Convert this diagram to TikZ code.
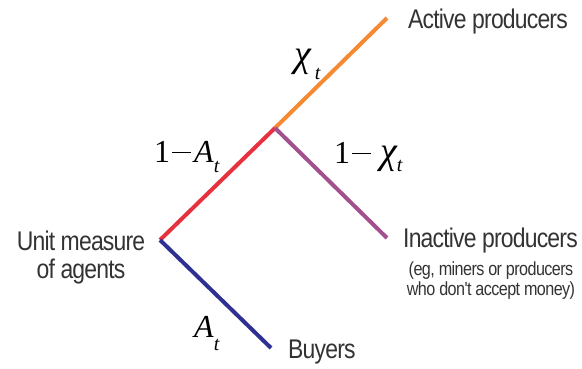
\documentclass[tikz,border=0pt]{standalone}
\usepackage{fontspec}
\setmainfont{Liberation Sans}
\newfontfamily\lbl[FakeStretch=0.85,LetterSpace=-3]{Liberation Sans}
\newfontfamily\mser{Liberation Serif}
\definecolor{corange}{HTML}{F58A33}
\definecolor{cred}{HTML}{E8313F}
\definecolor{cpurple}{HTML}{A3508E}
\definecolor{cnavy}{HTML}{2E3192}
\definecolor{ctext}{HTML}{333333}
\newcommand{\subt}[1]{\raisebox{#1}{\fontsize{20}{20}\selectfont\itshape t}}
\newcommand{\bigchi}{{\fontsize{38}{38}\selectfont\itshape χ}}
\newcommand{\mminus}{\hspace{2pt}\rule[9pt]{19pt}{1.4pt}\hspace{3pt}}
\begin{document}
\begin{tikzpicture}[x=1pt,y=-1pt,
  branch/.style={line width=4pt},
  lab/.style={text=ctext,font=\lbl\fontsize{27}{28}\selectfont,inner sep=0pt},
  small/.style={text=ctext,font=\lbl\fontsize{19}{20}\selectfont,inner sep=0pt,align=center},
  mlab/.style={inner sep=0pt,anchor=base west,font=\mser\fontsize{32}{34}\selectfont}]
\useasboundingbox (0,0) rectangle (582,368);
\coordinate (root) at (160,240);
\coordinate (mid) at (275,128);
\coordinate (act) at (387,18);
\coordinate (inact) at (387,238);
\coordinate (buy) at (271,348);
\draw[branch,corange] (mid) -- (act);
\draw[branch,cred] (root) -- (mid);
\draw[branch,cpurple] (mid) -- (inact);
\draw[branch,cnavy] (root) -- (buy);
\node[lab,anchor=base west] (tact) at (408,28) {Active producers};
\node[lab,anchor=base west] (tinact) at (403,247) {Inactive producers};
\node[small,anchor=base] (tnote) at (491,295) {(eg, miners or producers\\who don't accept money)};
\node[lab,align=center,anchor=base] (troot) at (81,278) {Unit measure\\of agents};
\node[lab,anchor=base west] (tbuy) at (288,358) {Buyers};
\node[mlab] (chi) at (294,66) {\bigchi\hspace{4pt}\subt{-13pt}};
\node[mlab] (oma) at (154,162) {1\mminus\textit{A}\subt{-10pt}};
\node[mlab] (omchi) at (334,163) {1\mminus\hspace{6pt}\bigchi\subt{-8pt}};
\node[mlab] (at) at (194,337) {\textit{A}\subt{-13pt}};
\end{tikzpicture}
\end{document}
